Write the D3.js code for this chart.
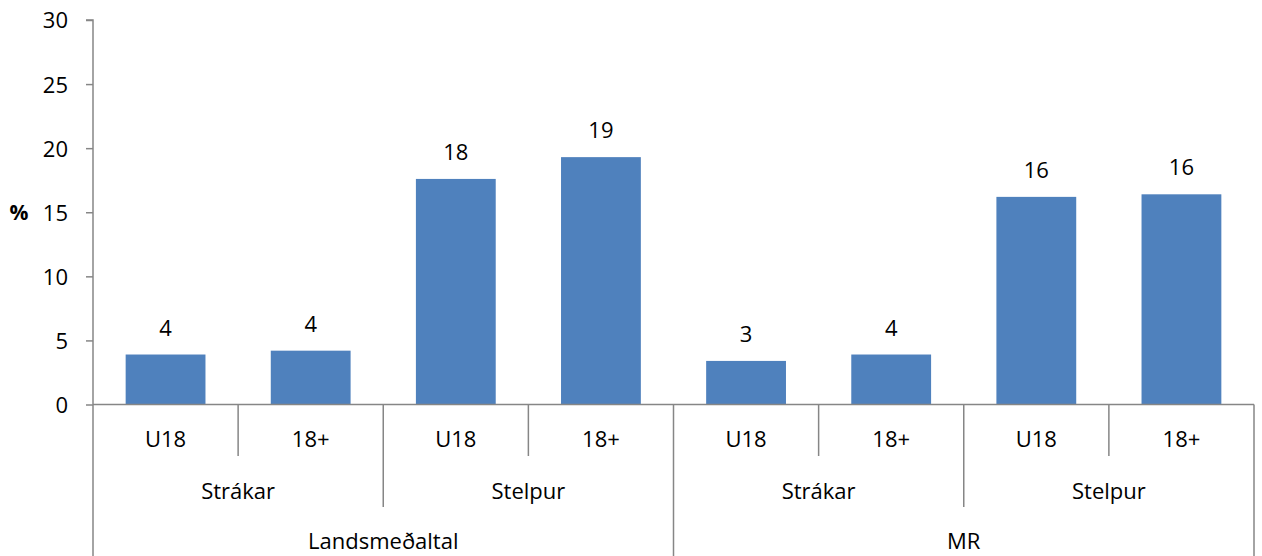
<!DOCTYPE html>
<html><head><meta charset="utf-8">
<script src="https://cdn.jsdelivr.net/npm/d3@7"></script>
<style>body{margin:0;background:#fff}svg{display:block}text{font-family:"Open Sans",sans-serif;fill:#000}</style>
</head><body>
<script>
const ageGroups = ["U18","18+","U18","18+","U18","18+","U18","18+"];
const genders = ["Strákar","Stelpur","Strákar","Stelpur"];
const regions = ["Landsmeðaltal","MR"];
const values = [3.9,4.2,17.6,19.3,3.4,3.9,16.2,16.4];
const valueLabels = ["4","4","18","19","3","4","16","16"];
const yTicks = [0,5,10,15,20,25,30];

(function(){
const W=1262,H=556;
const mL=93,mR=1254,mT=20,mB=404.5;
const FS=22, FF="'Open Sans',sans-serif";
const svg=d3.select("body").append("svg").attr("width",W).attr("height",H);
const x=d3.scaleBand().domain(d3.range(values.length)).range([mL,mR]).paddingInner(0.45).paddingOuter(0.225);
const xc=d3.scaleLinear().domain([0,values.length]).range([mL,mR]);
const y=d3.scaleLinear().domain([0,30]).range([mB,mT]);
const grey="#868686";

const yAxis=d3.axisLeft(y).tickValues(yTicks).tickSize(7).tickPadding(18);
const ga=svg.append("g").attr("transform",`translate(${mL},0)`).call(yAxis);
ga.select(".domain").attr("stroke",grey).attr("stroke-width",1.5).attr("d",`M-7,${mT}H0V${mB}`);
ga.selectAll(".tick line").attr("stroke",grey).attr("stroke-width",1.5);
ga.selectAll(".tick text").attr("font-size",FS).attr("font-family",FF).attr("fill","#000").attr("dy","0.36em");
svg.append("text").attr("x",19).attr("y",y(15)).attr("dy","0.36em").attr("text-anchor","middle").attr("font-size",21).attr("font-weight","bold").text("%");

svg.selectAll("rect.bar").data(values).join("rect").attr("class","bar")
 .attr("x",(d,i)=>x(i)).attr("width",x.bandwidth()).attr("y",d=>y(d)).attr("height",d=>mB-y(d)).attr("fill","#4F81BD");
svg.selectAll("text.val").data(values).join("text").attr("class","val")
 .attr("x",(d,i)=>x(i)+x.bandwidth()/2).attr("y",d=>y(d)-19).attr("text-anchor","middle").attr("font-size",FS).text((d,i)=>valueLabels[i]);

svg.append("line").attr("x1",mL).attr("x2",mR).attr("y1",mB).attr("y2",mB).attr("stroke",grey).attr("stroke-width",1.5);
const seps=[];
for(let i=0;i<=values.length;i++){
  let y2;
  if(i%4===0) y2=H; else if(i%2===0) y2=507; else y2=456;
  seps.push({x:xc(i),y2});
}
svg.selectAll("line.sep").data(seps).join("line").attr("class","sep")
 .attr("x1",d=>d.x).attr("x2",d=>d.x).attr("y1",mB).attr("y2",d=>d.y2).attr("stroke",grey).attr("stroke-width",1.5);
svg.selectAll("text.age").data(ageGroups).join("text").attr("class","age")
 .attr("x",(d,i)=>xc(i+0.5)).attr("y",439).attr("dy","0.36em").attr("text-anchor","middle").attr("font-size",FS).text(d=>d);
svg.selectAll("text.gen").data(genders).join("text").attr("class","gen")
 .attr("x",(d,i)=>xc(i*2+1)).attr("y",491).attr("dy","0.36em").attr("text-anchor","middle").attr("font-size",FS).text(d=>d);
svg.selectAll("text.reg").data(regions).join("text").attr("class","reg")
 .attr("x",(d,i)=>xc(i*4+2)).attr("y",541).attr("dy","0.36em").attr("text-anchor","middle").attr("font-size",FS).text(d=>d);
})();
</script>
</body></html>
